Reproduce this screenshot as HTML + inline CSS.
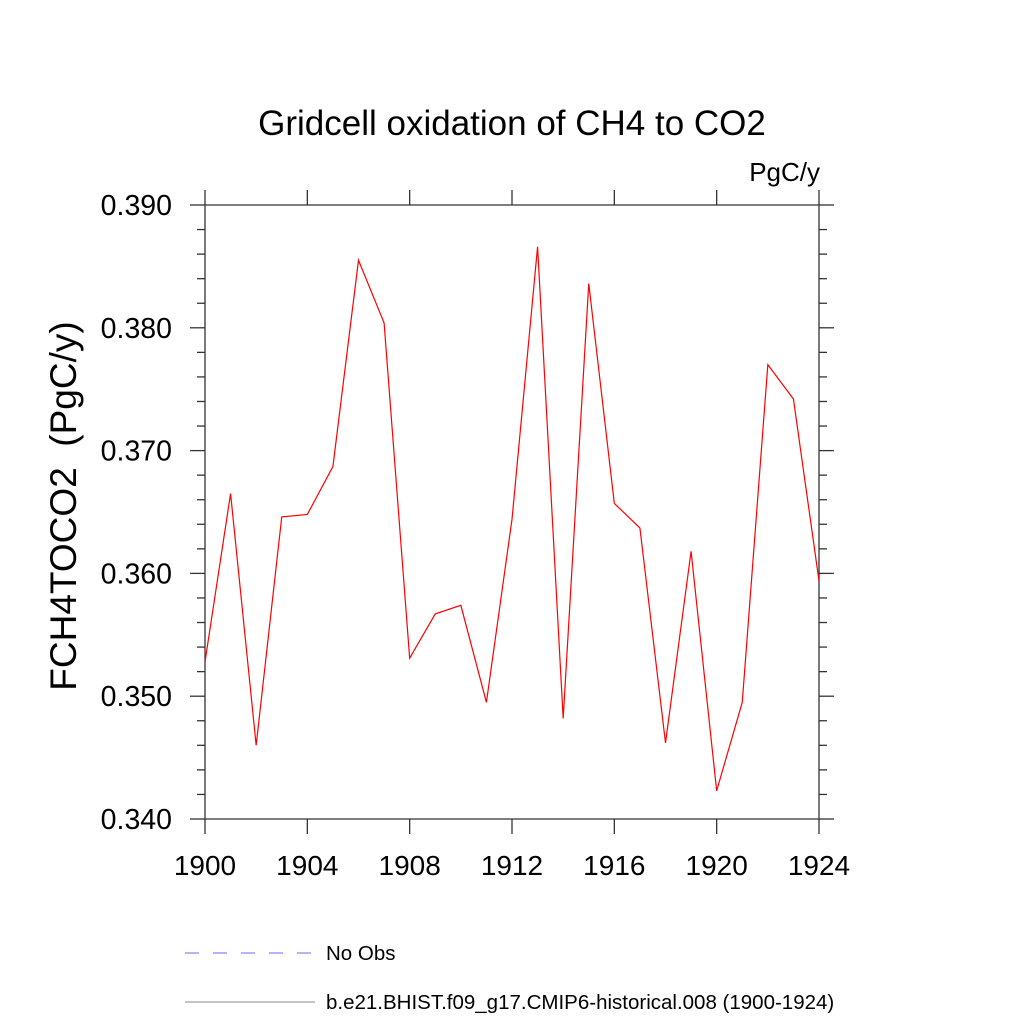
<!DOCTYPE html>
<html><head><meta charset="utf-8"><style>
body{margin:0;background:#fff}
svg text{font-family:"Liberation Sans",sans-serif;fill:#000}
</style></head><body>
<svg id="c" width="1024" height="1024" xmlns="http://www.w3.org/2000/svg">
<text x="512" y="135" font-size="35" text-anchor="middle">Gridcell oxidation of CH4 to CO2</text>
<text x="820" y="181" font-size="26" text-anchor="end">PgC/y</text>
<text transform="translate(76,506) rotate(-90)" font-size="37" text-anchor="middle" xml:space="preserve">FCH4TOCO2  (PgC/y)</text>
<g id="axes"></g>
<polyline id="line" fill="none" stroke="#ff0000" stroke-width="1.2"/>
<line x1="185" y1="953" x2="315" y2="953" stroke="#6666ff" stroke-dasharray="14,14"/>
<text x="326" y="960" font-size="20.5">No Obs</text>
<line x1="185" y1="1002" x2="315" y2="1002" stroke="#888"/>
<text x="326" y="1009" font-size="20.5">b.e21.BHIST.f09_g17.CMIP6-historical.008 (1900-1924)</text>
</svg>
<script>
const years=[1900,1901,1902,1903,1904,1905,1906,1907,1908,1909,1910,1911,1912,1913,1914,1915,1916,1917,1918,1919,1920,1921,1922,1923,1924];
const values=[0.3528,0.3665,0.3460,0.3646,0.3648,0.3687,0.3855,0.3804,0.3531,0.3567,0.3574,0.3495,0.3644,0.3866,0.3482,0.3836,0.3657,0.3637,0.3462,0.3618,0.3423,0.3495,0.3770,0.3742,0.3594];
const xTicks=[1900,1904,1908,1912,1916,1920,1924];
const yTicks=[0.340,0.350,0.360,0.370,0.380,0.390];
const X0=205,X1=819,Y0=819,Y1=205;
const xs=v=>X0+(v-1900)/24*(X1-X0);
const ys=v=>Y0-(v-0.340)/0.05*(Y0-Y1);
const NS="http://www.w3.org/2000/svg";
const ax=document.getElementById('axes');
function ln(x1,y1,x2,y2,n,w){const l=document.createElementNS(NS,'line');l.setAttribute('x1',x1);l.setAttribute('y1',y1);l.setAttribute('x2',x2);l.setAttribute('y2',y2);l.setAttribute('stroke','#333');l.setAttribute('stroke-width',w||1.3);


ax.appendChild(l);}
ln(X0,Y1,X1,Y1,'plot-frame-top');ln(X0,Y0,X1,Y0,'plot-frame-bottom');ln(X0,Y1,X0,Y0,'plot-frame-left');ln(X1,Y1,X1,Y0,'plot-frame-right');
xTicks.forEach(t=>{const x=xs(t);ln(x,Y0,x,Y0+15,'x-tick');ln(x,Y1,x,Y1-15,'x-tick-top');
const tx=document.createElementNS(NS,'text');tx.setAttribute('x',x);tx.setAttribute('y',875);tx.setAttribute('font-size',28);tx.setAttribute('text-anchor','middle');tx.textContent=t;


ax.appendChild(tx);});
for(let i=0;i<=25;i++){const v=0.340+i*0.002,y=ys(v);const major=i%5===0;
ln(X0,y,X0-(major?15:8),y,major?'y-tick':'y-minor-tick');ln(X1,y,X1+(major?15:8),y,major?'y-tick-right':'y-minor-tick-right');}
yTicks.forEach(t=>{const tx=document.createElementNS(NS,'text');tx.setAttribute('x',172);tx.setAttribute('y',ys(t)+10);tx.setAttribute('font-size',28.5);tx.setAttribute('text-anchor','end');tx.textContent=t.toFixed(3);


ax.appendChild(tx);});
document.getElementById('line').setAttribute('points',years.map((y,i)=>xs(y)+','+ys(values[i])).join(' '));
</script>
</body></html>
